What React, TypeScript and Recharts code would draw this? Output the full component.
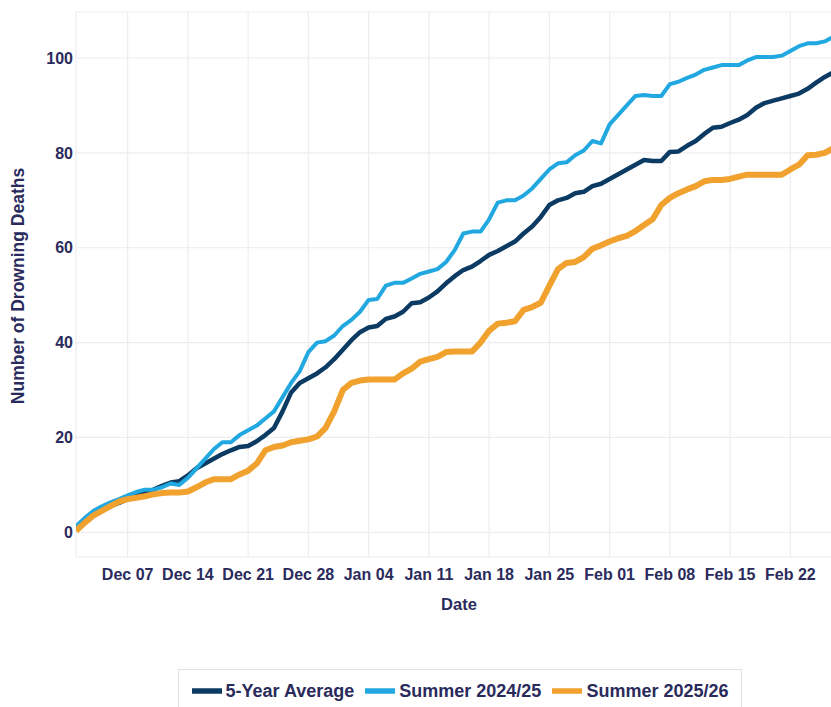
import React from 'react';
import { LineChart, Line, XAxis, YAxis, CartesianGrid, Legend } from 'recharts';

const dates = [
  'Dec 01','Dec 02','Dec 03','Dec 04','Dec 05','Dec 06','Dec 07','Dec 08','Dec 09','Dec 10',
  'Dec 11','Dec 12','Dec 13','Dec 14','Dec 15','Dec 16','Dec 17','Dec 18','Dec 19','Dec 20',
  'Dec 21','Dec 22','Dec 23','Dec 24','Dec 25','Dec 26','Dec 27','Dec 28','Dec 29','Dec 30',
  'Dec 31','Jan 01','Jan 02','Jan 03','Jan 04','Jan 05','Jan 06','Jan 07','Jan 08','Jan 09',
  'Jan 10','Jan 11','Jan 12','Jan 13','Jan 14','Jan 15','Jan 16','Jan 17','Jan 18','Jan 19',
  'Jan 20','Jan 21','Jan 22','Jan 23','Jan 24','Jan 25','Jan 26','Jan 27','Jan 28','Jan 29',
  'Jan 30','Jan 31','Feb 01','Feb 02','Feb 03','Feb 04','Feb 05','Feb 06','Feb 07','Feb 08',
  'Feb 09','Feb 10','Feb 11','Feb 12','Feb 13','Feb 14','Feb 15','Feb 16','Feb 17','Feb 18',
  'Feb 19','Feb 20','Feb 21','Feb 22','Feb 23','Feb 24','Feb 25','Feb 26','Feb 27',
];

const fiveYearAverage = [
  0.5, 2, 3.5, 4.5, 5.5, 6.2, 7, 7.8, 8.4, 9,
  9.8, 10.5, 10.8, 12, 13.5, 14.5, 15.5, 16.5, 17.3, 18,
  18.2, 19.2, 20.5, 22, 25.5, 29.5, 31.5, 32.5, 33.5, 34.8,
  36.5, 38.5, 40.5, 42.2, 43.2, 43.5, 45, 45.5, 46.5, 48.3,
  48.5, 49.5, 50.8, 52.5, 54, 55.3, 56, 57.2, 58.5, 59.3,
  60.3, 61.3, 63, 64.5, 66.5, 69, 70, 70.5, 71.5, 71.8,
  73, 73.5, 74.5, 75.5, 76.5, 77.5, 78.5, 78.3, 78.3, 80.2,
  80.3, 81.5, 82.5, 84, 85.3, 85.5, 86.3, 87, 88, 89.5,
  90.5, 91, 91.5, 92, 92.5, 93.5, 94.8, 96, 97,
];

const summer2425 = [
  1.3, 3, 4.5, 5.5, 6.3, 7, 7.8, 8.5, 9, 9,
  9.5, 10.3, 10, 11.5, 13.5, 15.5, 17.5, 19, 19, 20.5,
  21.5, 22.5, 24, 25.5, 28.5, 31.5, 34, 38, 40, 40.3,
  41.5, 43.5, 44.8, 46.5, 49, 49.2, 52, 52.6, 52.6, 53.5,
  54.5, 55, 55.5, 57, 59.5, 63, 63.4, 63.4, 66, 69.5,
  70, 70, 71, 72.5, 74.5, 76.5, 77.8, 78, 79.5, 80.5,
  82.5, 82, 86, 88, 90, 92, 92.2, 92, 92, 94.5,
  95, 95.8, 96.5, 97.5, 98, 98.5, 98.5, 98.5, 99.5, 100.2,
  100.2, 100.2, 100.5, 101.5, 102.5, 103.1, 103.1, 103.5, 104.5,
];

const summer2526 = [
  0.3, 2, 3.5, 4.5, 5.5, 6.5, 7, 7.3, 7.6, 8,
  8.3, 8.4, 8.4, 8.6, 9.5, 10.5, 11.2, 11.2, 11.2, 12.2,
  13, 14.5, 17.3, 18, 18.3, 19, 19.3, 19.6, 20.2, 22,
  25.5, 30, 31.5, 32, 32.2, 32.2, 32.2, 32.2, 33.5, 34.5,
  36, 36.5, 37, 38, 38.1, 38.1, 38.1, 40, 42.5, 44,
  44.2, 44.5, 46.9, 47.5, 48.4, 52, 55.5, 56.8, 57, 58,
  59.8, 60.5, 61.3, 62, 62.5, 63.5, 64.8, 66, 69, 70.5,
  71.5, 72.3, 73, 74, 74.3, 74.3, 74.5, 75, 75.4, 75.4,
  75.4, 75.4, 75.4, 76.5, 77.5, 79.5, 79.6, 80, 81,
];

const xTicks = [6, 13, 20, 27, 34, 41, 48, 55, 62, 69, 76, 83];
const yTicks = [0, 20, 40, 60, 80, 100];

const seriesNames = ['5-Year Average', 'Summer 2024/25', 'Summer 2025/26'];
const seriesKeys = ['avg', 's2425', 's2526'];
const seriesColors = ['#0b3a63', '#21a8e0', '#f0a12e'];
const seriesWidths = [4.5, 4, 6];

const data = dates.map((d, i) => ({
  day: i,
  date: d,
  avg: fiveYearAverage[i],
  s2425: summer2425[i],
  s2526: summer2526[i],
}));

const TEXT = '#2a2b5c';
const FONT = '"Liberation Sans", Arial, Helvetica, sans-serif';

const LegendBox = () => (
  <div
    style={{
      boxSizing: 'border-box',
      width: 564,
      height: 44,
      border: '1px solid #e2e2e2',
      display: 'flex',
      alignItems: 'center',
      justifyContent: 'center',
      gap: 11,
      fontFamily: FONT,
      fontWeight: 700,
      fontSize: 18,
      color: TEXT,
      background: '#fff',
    }}
  >
    {seriesNames.map((name, i) => (
      <div key={name} style={{ display: 'flex', alignItems: 'center' }}>
        <svg width={30} height={8}>
          <line x1={0} y1={4} x2={30} y2={4} stroke={seriesColors[i]} strokeWidth={5.5} />
        </svg>
        <span style={{ marginLeft: 4 }}>{name}</span>
      </div>
    ))}
  </div>
);

const YTitle = () => (
  <text
    x={15.5}
    y={278}
    transform="rotate(-90, 15.5, 278)"
    textAnchor="middle"
    fill={TEXT}
    fontFamily={FONT}
    fontWeight={700}
    fontSize={17.5}
  >
    Number of Drowning Deaths
  </text>
);

export default function App() {
  return (
    <div
      style={{
        position: 'fixed',
        left: 8,
        top: 8,
        width: 823,
        height: 699,
        overflow: 'hidden',
        background: '#fff',
      }}
    >
      <LineChart
        width={834}
        height={710}
        data={data}
        margin={{ top: 4, right: 0, bottom: 101, left: 0 }}
      >
        <CartesianGrid stroke="#ededed" strokeWidth={1.2} />
        <XAxis
          dataKey="day"
          type="number"
          domain={[0, 89]}
          ticks={xTicks}
          allowDataOverflow
          tickFormatter={(v: number) => dates[v]}
          axisLine={false}
          tickLine={false}
          tickSize={0}
          tickMargin={12}
          height={60}
          interval={0}
          tick={{ fill: TEXT, fontFamily: FONT, fontWeight: 700, fontSize: 16 }}
          label={{
            value: 'Date',
            position: 'insideBottom',
            offset: 7,
            fill: TEXT,
            fontFamily: FONT,
            fontWeight: 700,
            fontSize: 16.5,
          }}
        />
        <YAxis
          type="number"
          domain={[-5.2, 109.7]}
          ticks={yTicks}
          allowDataOverflow
          axisLine={false}
          tickLine={false}
          tickSize={0}
          tickMargin={3}
          width={68}
          interval={0}
          tick={{ fill: TEXT, fontFamily: FONT, fontWeight: 700, fontSize: 16 }}
          label={<YTitle />}
        />
        <Legend
          verticalAlign="middle"
          align="center"
          layout="horizontal"
          content={<LegendBox />}
          wrapperStyle={{ left: 170, top: 661, width: 564, height: 44 }}
        />
        {seriesKeys.map((k, i) => (
          <Line
            key={k}
            type="linear"
            dataKey={k}
            name={seriesNames[i]}
            stroke={seriesColors[i]}
            strokeWidth={seriesWidths[i]}
            strokeLinejoin="round"
            dot={false}
            activeDot={false}
            isAnimationActive={false}
          />
        ))}
      </LineChart>
    </div>
  );
}
